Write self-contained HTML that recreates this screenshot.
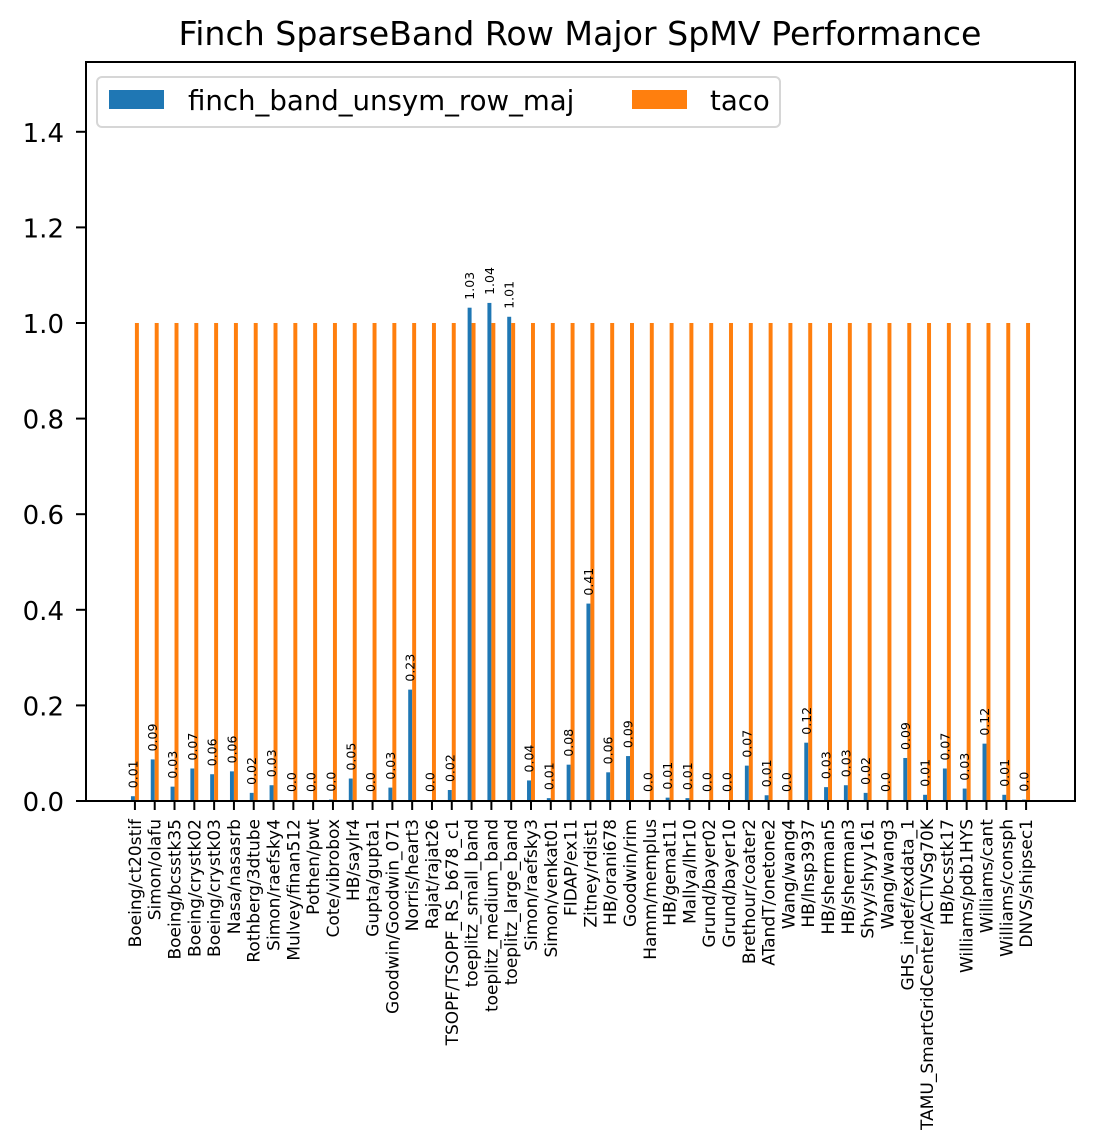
<!DOCTYPE html>
<html><head><meta charset="utf-8"><style>
body{margin:0;background:#fff;}
svg{display:block;font-family:"DejaVu Sans","Liberation Sans",sans-serif;}
</style></head><body>
<svg id="chart" width="1095" height="1146"></svg>
<script>
const categories=["Boeing/ct20stif","Simon/olafu","Boeing/bcsstk35","Boeing/crystk02","Boeing/crystk03","Nasa/nasasrb","Rothberg/3dtube","Simon/raefsky4","Mulvey/finan512","Pothen/pwt","Cote/vibrobox","HB/saylr4","Gupta/gupta1","Goodwin/Goodwin_071","Norris/heart3","Rajat/rajat26","TSOPF/TSOPF_RS_b678_c1","toeplitz_small_band","toeplitz_medium_band","toeplitz_large_band","Simon/raefsky3","Simon/venkat01","FIDAP/ex11","Zitney/rdist1","HB/orani678","Goodwin/rim","Hamm/memplus","HB/gemat11","Mallya/lhr10","Grund/bayer02","Grund/bayer10","Brethour/coater2","ATandT/onetone2","Wang/wang4","HB/lnsp3937","HB/sherman5","HB/sherman3","Shyy/shyy161","Wang/wang3","GHS_indef/exdata_1","TAMU_SmartGridCenter/ACTIVSg70K","HB/bcsstk17","Williams/pdb1HYS","Williams/cant","Williams/consph","DNVS/shipsec1"];
const finchValues=[0.01,0.087,0.03,0.068,0.056,0.062,0.017,0.033,0.002,0.002,0.003,0.047,0.002,0.028,0.233,0.002,0.023,1.032,1.042,1.013,0.043,0.006,0.076,0.413,0.06,0.094,0.002,0.007,0.006,0.002,0.002,0.074,0.012,0.002,0.122,0.029,0.033,0.017,0.002,0.09,0.013,0.068,0.026,0.12,0.013,0.003];
const tacoValues=categories.map(()=>1.0);
const yTicks=[0.0,0.2,0.4,0.6,0.8,1.0,1.2,1.4];

const svg=document.getElementById('chart');
const NS='http://www.w3.org/2000/svg';
const L=86,R=1075,T=62,B=801;
const xMin=-2.47,xMax=47.47,yMax=1.546;
const xs=v=>L+(v-xMin)/(xMax-xMin)*(R-L);
const ys=v=>B-v/yMax*(B-T);
function mk(tag,attrs,parent){const e=document.createElementNS(NS,tag);for(const k in attrs)e.setAttribute(k,attrs[k]);(parent||svg).appendChild(e);return e;}
const bw=0.2;
const fmt=v=>{const r=Math.round(v*100)/100;return Number.isInteger(r)?r.toFixed(1):String(r);};

const title=mk('text',{x:580,y:45,'text-anchor':'middle','font-size':'33.2'});
title.textContent='Finch SparseBand Row Major SpMV Performance';



categories.forEach((c,i)=>{
  const b1=mk('rect',{x:xs(i-bw),y:ys(finchValues[i]),width:xs(i)-xs(i-bw),height:B-ys(finchValues[i]),fill:'#1f77b4'});
  
  
  const b2=mk('rect',{x:xs(i),y:ys(tacoValues[i]),width:xs(i+bw)-xs(i),height:B-ys(tacoValues[i]),fill:'#ff7f0e'});
  
  
  const lx=xs(i-bw/2)+4.5,ly=ys(finchValues[i])-8;
  const vl=mk('text',{x:lx,y:ly,'font-size':'12.5',transform:`rotate(-90 ${lx} ${ly})`});
  vl.textContent=fmt(finchValues[i]);
  
  
  const tx=xs(i);
  mk('line',{x1:tx,x2:tx,y1:B,y2:B+9,stroke:'#000','stroke-width':2});
  const bx=tx+6,by=B+18;
  const tl=mk('text',{x:bx,y:by,'font-size':'17','text-anchor':'end',transform:`rotate(-90 ${bx} ${by})`});
  tl.textContent=c;
  
  
});

yTicks.forEach(t=>{
  const y=ys(t);
  mk('line',{x1:L-10,x2:L,y1:y,y2:y,stroke:'#000','stroke-width':2});
  const tl=mk('text',{x:L-22,y:y+10,'font-size':'26','text-anchor':'end'});
  tl.textContent=t.toFixed(1);
  
  
});

const frame=mk('rect',{x:L,y:T,width:R-L,height:B-T,fill:'none',stroke:'#000','stroke-width':2});



const lg=mk('g',{});


mk('rect',{x:97,y:77,width:683,height:50,rx:5,fill:'#fff',stroke:'#d6d6d6','stroke-width':2},lg);
mk('rect',{x:109,y:90,width:55,height:19,fill:'#1f77b4'},lg);
const l1=mk('text',{x:188,y:110,'font-size':'27.6'},lg);
l1.textContent='finch_band_unsym_row_maj';


mk('rect',{x:632,y:90,width:55,height:19,fill:'#ff7f0e'},lg);
const l2=mk('text',{x:710,y:110,'font-size':'27.6'},lg);
l2.textContent='taco';


</script>
</body></html>
